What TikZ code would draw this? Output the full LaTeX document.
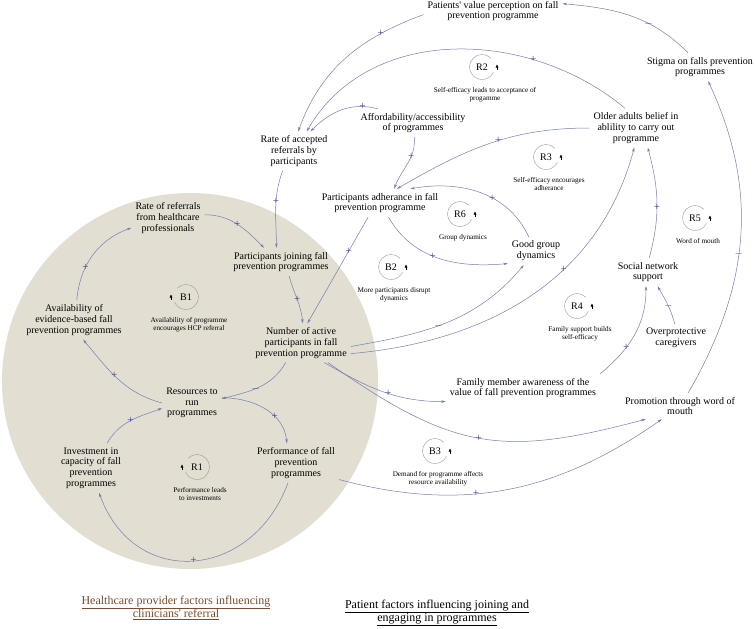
\documentclass[tikz,border=0pt]{standalone}
\usepackage{fontspec}
\setmainfont{Liberation Serif}
\usetikzlibrary{arrows.meta}
\definecolor{linkblue}{RGB}{118,124,172}
\definecolor{signblue}{RGB}{52,62,148}
\definecolor{sector}{RGB}{226,222,210}
\definecolor{titlebrown}{RGB}{120,78,48}
\newcommand{\loopsym}[5]{%
 \node[looplbl] (#1) at (#2) {#3};%
 \draw[loopline] ([shift={({90-45*#4}:12.5)}]#1.center) arc[start angle={90-45*#4},end angle={90+245*#4},radius=12.5];%
 \draw[looptip] ([shift={({15*#4},-2.5)}]#1.center) -- ++(0,5);%
 \node[loopdesc,anchor=north] (#1d) at ([shift={(3,-20)}]#1.center) {#5};%
}
\begin{document}
\begin{tikzpicture}[x=1pt,y=1pt,
  var/.style={align=center,inner sep=4pt,font=\fontsize{10}{10.8}\selectfont},
  link/.style={draw=linkblue,line width=.5pt,-{Stealth[length=4.5pt,width=2.6pt]}},
  sgn/.style={text=signblue,inner sep=0pt,font=\fontsize{11}{11}\selectfont},
  looplbl/.style={inner sep=0pt,font=\fontsize{10}{10}\selectfont},
  loopline/.style={draw=gray!80,line width=.4pt},
  looptip/.style={line width=.4pt,-{Triangle[length=3pt,width=2.6pt]}},
  loopdesc/.style={align=center,inner sep=0pt,font=\fontsize{7.2}{8}\selectfont},
  heading/.style={align=center,font=\fontsize{12}{13.5}\selectfont}]
 \useasboundingbox (0,0) rectangle (755,-629);
 \fill[sector] (190,-381) circle[radius=188];

 \node[var] (patval)    at (493,-11)  {Patients\textquotesingle{} value perception on fall\\prevention programme};
 \node[var] (stigma)    at (700,-67)  {Stigma on falls prevention\\programmes};
 \node[var] (rar)       at (294,-151) {Rate of accepted\\referrals by\\participants};
 \node[var] (afford)    at (413,-123) {Affordability/accessibility\\of programmes};
 \node[var] (adher)     at (380,-203) {Participants adherance in fall\\prevention programme};
 \node[var] (older)     at (636,-128) {Older adults belief in\\ablility to carry out\\programme};
 \node[var] (joining)   at (281,-262) {Participants joining fall\\prevention programmes};
 \node[var] (ggd)       at (536,-251) {Good group\\dynamics};
 \node[var] (number)    at (301,-343) {Number of active\\participants in fall\\prevention programme};
 \node[var] (social)    at (648,-272) {Social network\\support};
 \node[var] (overprot)  at (676,-338) {Overprotective\\caregivers};
 \node[var] (family)    at (523,-388) {Family member awareness of the\\value of fall prevention programmes};
 \node[var] (promo)     at (680,-406) {Promotion through word of\\mouth};
 \node[var] (hcpref)    at (168,-218) {Rate of referrals\\from healthcare\\professionals};
 \node[var] (avail)     at (74,-320)  {Availability of\\evidence-based fall\\prevention programmes};
 \node[var] (resources) at (192,-403) {Resources to\\run\\programmes};
 \node[var] (invest)    at (91,-468)  {Investment in\\capacity of fall\\prevention\\programmes};
 \node[var] (perf)      at (296,-463) {Performance of fall\\prevention\\programmes};

 \loopsym{R2}{482,-67}{R2}{1}{Self-efficacy leads to acceptance of\\progamme}
 \loopsym{R3}{546,-157}{R3}{1}{Self-efficacy encourages\\adherance}
 \loopsym{R6}{460,-214}{R6}{1}{Group dynamics}
 \loopsym{B2}{391,-267}{B2}{1}{More participants disrupt\\dynamics}
 \loopsym{R4}{577,-306}{R4}{1}{Family support builds\\self-efficacy}
 \loopsym{R5}{695,-218}{R5}{1}{Word of mouth}
 \loopsym{B1}{186,-297}{B1}{-1}{Availability of programme\\encourages HCP referral}
 \loopsym{R1}{197,-467}{R1}{-1}{Performance leads\\to investments}
 \loopsym{B3}{435,-451}{B3}{1}{Demand for programme affects\\resource availability}

 \draw[link] (stigma.130) to[out=135,in=-5] node[sgn,pos=.35]{$-$} (patval.6);
 \draw[link] (promo.58) to[out=60,in=-65] node[sgn,pos=.45]{$-$} (stigma.-60);
 \draw[link] (patval.183) to[out=200,in=70] node[sgn,pos=.25]{+} (rar.78);
 \draw[link] (older.119) to[out=140,in=60] node[sgn,pos=.28]{+} (rar.57);
 \draw[link] (afford.158) to[out=165,in=45] node[sgn,pos=.2]{+} (rar.50);
 \draw[link] (afford.-85) to[out=-85,in=70] node[sgn,pos=.35]{+} (adher.45);
 \draw[link] (older.west) to[out=180,in=30] node[sgn,pos=.45]{+} (adher.40);
 \draw[link] (ggd.117) to[out=115,in=10] node[sgn,pos=.4]{+} (adher.25);
 \draw[link] (adher.-59) to[out=-60,in=185] node[sgn,pos=.45]{+} (ggd.204);
 \draw[link] (adher.230) -- node[sgn,pos=.32]{+} (number.72);
 \draw[link] (joining.-60) to[out=-75,in=95] node[sgn,pos=.5]{+} (number.85);
 \draw[link] (rar.240) to[out=250,in=90] node[sgn,pos=.4]{+} (joining.108);
 \draw[link] (hcpref.5) to[out=0,in=135] node[sgn,pos=.5]{+} (joining.140);
 \draw[link] (avail.82) to[out=85,in=200] node[sgn,pos=.35]{+} (hcpref.195);
 \draw[link] (resources.west) to[out=165,in=-50] node[sgn,pos=.55]{+} (avail.-65);
 \draw[link] (invest.57) to[out=60,in=200] node[sgn,pos=.5]{+} (resources.190);
 \draw[link] (number.232) to[out=240,in=15] node[sgn,pos=.55]{$-$} (resources.8);
 \draw[link] (resources.10) to[out=0,in=95] node[sgn,pos=.65]{+} (perf.115);
 \draw[link] (perf.248) to[out=250,in=-70,looseness=1.4] node[sgn,pos=.5]{+} (invest.-72);
 \draw[link] (number.-4) to[out=10,in=230] node[sgn,pos=.45]{$-$} (ggd.229);
 \draw[link] (number.-12) to[out=5,in=-105] node[sgn,pos=.62]{+} (older.265);
 \draw[link] (number.-40) to[out=-30,in=180] node[sgn,pos=.55]{+} (family.190);
 \draw[link] (number.-36) to[out=-35,in=195,looseness=1.2] node[sgn,pos=.5]{+} (promo.201);
 \draw[link] (perf.-21) to[out=-15,in=215] node[sgn,pos=.4]{+} (promo.216);
 \draw[link] (family.north east) to[out=40,in=-90] node[sgn,pos=.35]{+} (social.262);
 \draw[link] (overprot.95) to[out=105,in=-60] node[sgn,pos=.45]{$-$} (social.-56);
 \draw[link] (social.85) to[out=75,in=-75] node[sgn,pos=.45]{+} (older.-59);

 \node[heading,text=titlebrown] (hcptitle) at (176,-608) {\underline{Healthcare provider factors influencing}\\\underline{clinicians\textquotesingle{} referral}};
 \node[heading] (pattitle) at (437,-613) {\underline{Patient factors influencing joining and}\\\underline{engaging in programmes}};
\end{tikzpicture}
\end{document}
